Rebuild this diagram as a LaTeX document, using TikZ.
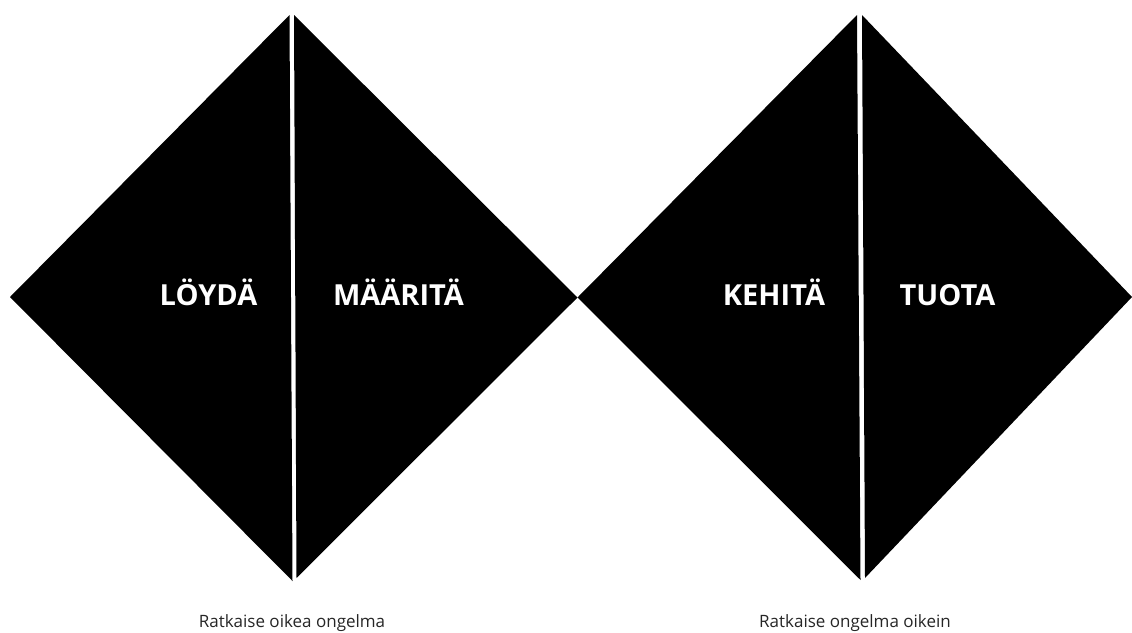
\documentclass[tikz,border=0pt]{standalone}
\usepackage{fontspec}
\setmainfont{Open Sans}
\begin{document}
\begin{tikzpicture}[x=1pt,y=-1pt,
  half/.style={fill=black,draw=none},
  phase/.style={text=white,font=\fontsize{29}{33}\selectfont\bfseries,anchor=base,inner sep=0pt},
  caption/.style={text=black!85,font=\fontsize{17}{20}\selectfont,anchor=base,inner sep=0pt}]
\useasboundingbox (0,0) rectangle (1132,632);
% left diamond
\coordinate (L1) at (10,297);
\coordinate (L1t) at (289.5,15);
\coordinate (L1b) at (292.5,581);
\coordinate (L2t) at (294,15);
\coordinate (L2b) at (296.5,578);
\coordinate (M) at (577.5,297.5);
% right diamond
\coordinate (R1t) at (857,15);
\coordinate (R1b) at (860.5,580);
\coordinate (R2t) at (862,15);
\coordinate (R2b) at (865,578);
\coordinate (R) at (1132,297);
\fill[half] (L1) -- (L1t) -- (L1b) -- cycle;
\fill[half] (L2t) -- (M) -- (L2b) -- cycle;
\fill[half] (M) -- (R1t) -- (R1b) -- cycle;
\fill[half] (R2t) -- (R) -- (R2b) -- cycle;
\node[phase] (loyda) at (208.5,305.5) {LÖYDÄ};
\node[phase] (maarita) at (398.5,305.5) {MÄÄRITÄ};
\node[phase] (kehita) at (774,305.5) {KEHITÄ};
\node[phase] (tuota) at (947.5,305.5) {TUOTA};
\node[caption] (cap1) at (292,627.5) {Ratkaise oikea ongelma};
\node[caption] (cap2) at (855,627.5) {Ratkaise ongelma oikein};
\end{tikzpicture}
\end{document}
